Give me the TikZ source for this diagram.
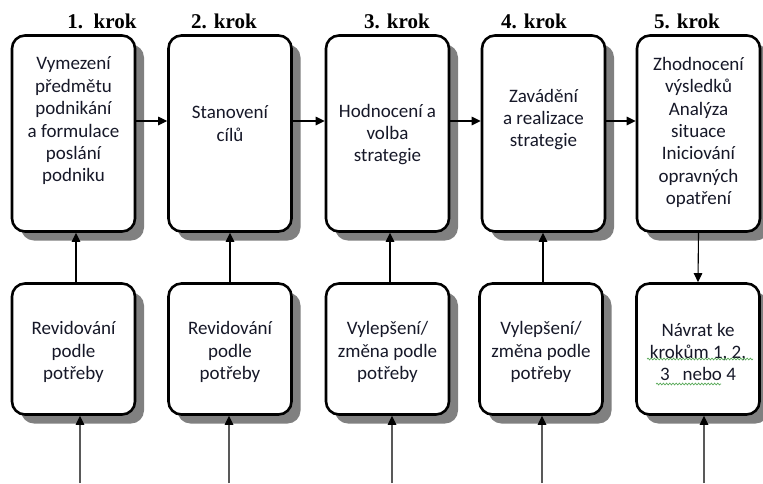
\documentclass[tikz,border=0pt]{standalone}
\usepackage{fontspec}
\setmainfont{Carlito}
\newfontfamily\headfont{Liberation Serif}
\usetikzlibrary{arrows.meta,shadows,decorations.pathmorphing}
\definecolor{txtc}{RGB}{22,24,40}
\definecolor{shadowc}{RGB}{128,128,128}
\definecolor{spellc}{RGB}{90,170,90}
\begin{document}
\begin{tikzpicture}[x=1pt,y=-1pt,
  boxbase/.style={draw=black, line width=2.6pt, rounded corners=13pt, fill=white,
    minimum width=123pt, inner sep=0pt,
    drop shadow={shadow xshift=9pt, shadow yshift=-9pt, fill=shadowc, opacity=1}},
  topbox/.style={boxbase, minimum height=196pt},
  botbox/.style={boxbase, minimum height=131pt},
  boxtext/.style={align=center, font=\fontsize{19}{22.4}\selectfont, text=txtc, inner sep=0pt},
  headtext/.style={font=\headfont\bfseries\fontsize{21}{24}\selectfont, anchor=base, inner sep=0pt},
  arr/.style={draw=black, line width=1.1pt, -{Triangle[length=9pt,width=8.5pt]}},
  arrg/.style={draw=black!65, line width=1.1pt, -{Triangle[length=9pt,width=8.5pt,color=black,fill=black]}},
  spell/.style={draw=spellc, line width=0.7pt, decorate, decoration={snake, segment length=3.2pt, amplitude=0.9pt}}
]
\useasboundingbox (0,0) rectangle (763,483);
\fill[white] (0,0) rectangle (763,483);

% headings
\node[headtext] (h1) at (102,28) {1.\ \ krok};
\node[headtext] (h2) at (224,28) {2. krok};
\node[headtext] (h3) at (397,28) {3. krok};
\node[headtext] (h4) at (534,28) {4. krok};
\node[headtext] (h5) at (687,28) {5. krok};

% top boxes
\node[topbox] (t1) at (73.5,133.5) {};
\node[topbox] (t2) at (230,133.5) {};
\node[topbox] (t3) at (387.5,133.5) {};
\node[topbox] (t4) at (543.5,133.5) {};
\node[topbox] (t5) at (698.5,133.5) {};

\node[boxtext] (tt1) at (73.5,121) {Vymezení\\předmětu\\podnikání\\a formulace\\poslání\\podniku};
\node[boxtext] (tt2) at (230,123.5) {Stanovení\\cílů};
\node[boxtext] (tt3) at (387.5,134.5) {Hodnocení a\\volba\\strategie};
\node[boxtext] (tt4) at (543.5,119.5) {Zavádění\\a realizace\\strategie};
\node[boxtext] (tt5) at (698.5,132.5) {Zhodnocení\\výsledků\\Analýza\\situace\\Iniciování\\opravných\\opatření};

% bottom boxes
\node[botbox] (b1) at (73.5,349) {};
\node[botbox] (b2) at (230,349) {};
\node[botbox] (b3) at (387.5,349) {};
\node[botbox] (b4) at (541,349) {};
\node[botbox] (b5) at (698,349) {};

\node[boxtext] (bt1) at (73.5,352) {Revidování\\podle\\potřeby};
\node[boxtext] (bt2) at (230,352) {Revidování\\podle\\potřeby};
\node[boxtext] (bt3) at (387.5,352) {Vylepšení/\\změna podle\\potřeby};
\node[boxtext] (bt4) at (541,352) {Vylepšení/\\změna podle\\potřeby};
\node[boxtext] (bt5) at (698,352) {Návrat ke\\krokům 1, 2,\\3\ \ \ nebo 4};

% spell-check underlines
\draw[spell] (647,359) -- (753,359);
\draw[spell] (656,384) -- (721,384);

% horizontal arrows
\draw[arr] ([yshift=12.5pt]t1.east) -- ([yshift=12.5pt]t2.west);
\draw[arr] ([yshift=12.5pt]t2.east) -- ([yshift=12.5pt]t3.west);
\draw[arr] ([yshift=12.5pt]t3.east) -- ([yshift=12.5pt]t4.west);
\draw[arr] ([yshift=12.5pt]t4.east) -- ([yshift=12.5pt]t5.west);

% vertical arrows between rows
\draw[arr] ([xshift=2.5pt]b1.north) -- ([xshift=2.5pt]t1.south);
\draw[arr] (b2.north) -- (t2.south);
\draw[arr] ([xshift=2.5pt]b3.north) -- ([xshift=2.5pt]t3.south);
\draw[arr] ([xshift=2pt]b4.north) -- ([xshift=-0.5pt]t4.south);
\draw[arr] (t5.south) -- (b5.north);

% incoming arrows from below
\coordinate (in1) at (80,483);
\coordinate (in2) at (229,483);
\coordinate (in3) at (392,483);
\coordinate (in4) at (542,483);
\coordinate (in5) at (704,483);
\draw[arrg] (in1) -- (in1 |- b1.south);
\draw[arrg] (in2) -- (in2 |- b2.south);
\draw[arrg] (in3) -- (in3 |- b3.south);
\draw[arrg] (in4) -- (in4 |- b4.south);
\draw[arrg] (in5) -- (in5 |- b5.south);
\end{tikzpicture}
\end{document}
